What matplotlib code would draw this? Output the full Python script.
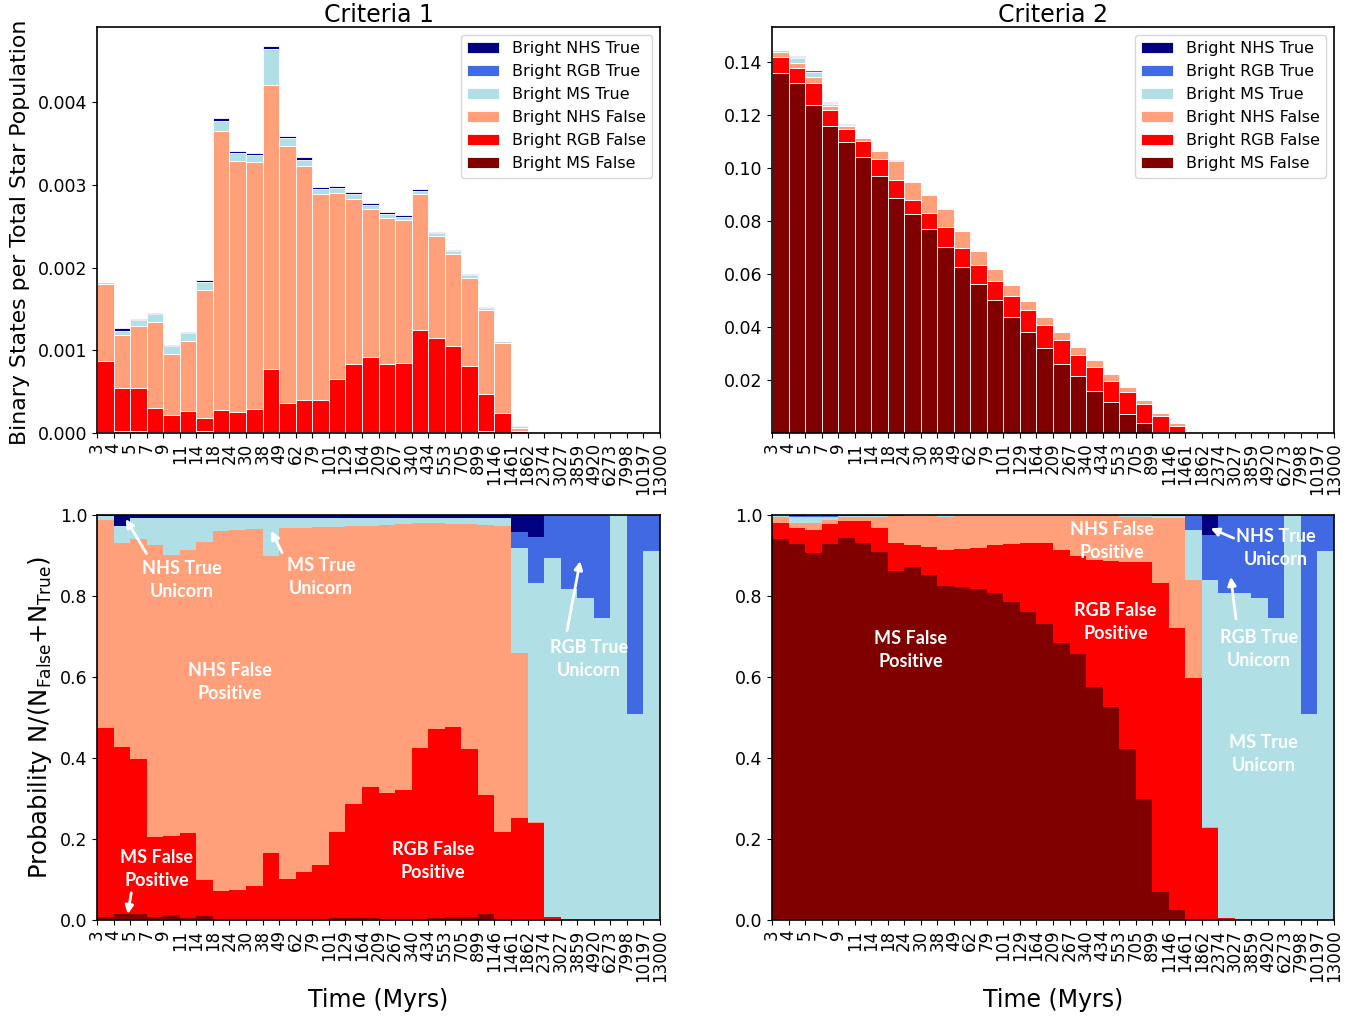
import numpy as np
import matplotlib.pyplot as plt

# bin edges in Myr (tick labels sit on the bin edges)
time_edges = ['3', '4', '5', '7', '9', '11', '14', '18', '24', '30', '38', '49', '62',
              '79', '101', '129', '164', '209', '267', '340', '434', '553', '705', '899',
              '1146', '1461', '1862', '2374', '3027', '3859', '4920', '6273', '7998',
              '10197', '13000']

# binary states per total star population in each bin
c1_total = np.array([1.826, 1.273, 1.375, 1.455, 1.060, 1.218, 1.846, 3.805, 3.410, 3.390,
                     4.680, 3.595, 3.333, 2.978, 2.990, 2.914, 2.781, 2.669, 2.636, 2.947,
                     2.434, 2.213, 1.923, 1.520, 1.116, 0.097, 0.028, 0.008, 0.002, 0.003,
                     0.003, 0.001, 0.002, 0.003]) * 1e-3
c2_total = np.array([0.1447, 0.1424, 0.1369, 0.1248, 0.1166, 0.1119, 0.1069, 0.1029, 0.0949,
                     0.0902, 0.0851, 0.0764, 0.0689, 0.0620, 0.0559, 0.0500, 0.0438, 0.0383,
                     0.0326, 0.0278, 0.0223, 0.0173, 0.0125, 0.0078, 0.0037, 0.0002, 0.00005,
                     0.00002, 0.00001, 0.00001, 0.00001, 0.00001, 0.00001, 0.00001])

# criteria 1: fraction of each state per bin
c1_ms_false = [.008, .016, .015, .008, .012, .006, .010, .003, .003, .003, .003, .003, .003,
               .003, .004, .005, .004, .003, .003, .003, .004, .007, .008, .016, .002, 0,
               0, 0, 0, 0, 0, 0, 0, 0]
c1_rgb_false = [.467, .412, .382, .198, .196, .210, .088, .069, .072, .081, .163, .098, .116,
                .132, .214, .281, .325, .310, .318, .421, .468, .470, .415, .292, .216, .251,
                .239, .008, 0, 0, 0, 0, 0, 0]
c1_nhs_false = [.513, .502, .543, .720, .693, .698, .836, .889, .888, .882, .733, .866, .850,
                .835, .753, .687, .645, .662, .656, .556, .508, .500, .554, .667, .754, .409,
                .004, 0, 0, 0, 0, 0, 0, 0]
c1_ms_true = [.009, .043, .052, .066, .091, .078, .058, .031, .029, .026, .093, .025, .023,
              .022, .021, .019, .018, .017, .015, .012, .012, .015, .015, .017, .020, .258,
              .588, .885, .817, .796, .745, 1.0, .508, .911]
c1_rgb_true = [0, 0, 0, 0, 0, 0, 0, 0, 0, 0, 0, 0, 0, 0, 0, 0, 0, 0, 0, 0, 0, 0, 0, 0, 0,
               .041, .115, .107, .183, .204, .255, 0, .492, .089]
c1_nhs_true = [.003, .027, .008, .008, .008, .008, .008, .008, .008, .008, .008, .008, .008,
               .008, .008, .008, .008, .008, .008, .008, .008, .008, .008, .008, .008, .041,
               .054, 0, 0, 0, 0, 0, 0, 0]

# criteria 2: fraction of each state per bin
c2_ms_false = [.940, .929, .905, .928, .942, .931, .909, .862, .871, .853, .825, .822, .817,
               .808, .784, .760, .730, .683, .657, .576, .526, .423, .300, .070, .024, 0,
               0, 0, 0, 0, 0, 0, 0, 0]
c2_rgb_false = [.041, .039, .059, .049, .042, .055, .060, .068, .055, .069, .089, .093, .102,
                .118, .144, .170, .200, .231, .243, .314, .360, .462, .584, .761, .696, .597,
                .226, .005, 0, 0, 0, 0, 0, 0]
c2_nhs_false = [.013, .013, .017, .011, .010, .010, .027, .067, .071, .075, .080, .082, .078,
                .071, .069, .067, .067, .083, .097, .107, .111, .111, .111, .161, .272, .243,
                .004, 0, 0, 0, 0, 0, 0, 0]
c2_ms_true = [.006, .014, .015, .007, .004, .002, .002, .001, .002, .002, .005, .002, .002,
              .002, .002, .002, .002, .002, .002, .002, .002, .003, .004, .006, .006, .123,
              .610, .802, .807, .796, .745, 1.0, .508, .911]
c2_rgb_true = [0, .002, .004, .003, .001, .001, .001, .001, 0, 0, 0, 0, 0, 0, 0, 0, 0, 0, 0,
               0, 0, 0, 0, 0, 0, .037, .111, .193, .193, .204, .255, 0, .492, .089]
c2_nhs_true = [0, .003, 0, .002, .001, .001, .001, .001, .001, .001, .001, .001, .001, .001,
               .001, .001, .001, .001, .001, .001, .001, .001, .001, .002, .002, 0, .049, 0,
               0, 0, 0, 0, 0, 0]

labels = ['Bright MS False', 'Bright RGB False', 'Bright NHS False',
          'Bright MS True', 'Bright RGB True', 'Bright NHS True']
colors = ['#800000', '#ff0000', '#ffa07a', '#b0e0e6', '#4169e1', '#000080']

c1_frac = np.array([c1_ms_false, c1_rgb_false, c1_nhs_false, c1_ms_true, c1_rgb_true, c1_nhs_true])
c2_frac = np.array([c2_ms_false, c2_rgb_false, c2_nhs_false, c2_ms_true, c2_rgb_true, c2_nhs_true])

# counts per state, and probability N/(N_False+N_True)
c1_counts = c1_frac * c1_total
c2_counts = c2_frac * c2_total
c1_prob = c1_counts / c1_counts.sum(axis=0)
c2_prob = c2_counts / c2_counts.sum(axis=0)

W, H = 1361, 1021
fig = plt.figure(figsize=(W / 100, H / 100), dpi=100)

def px_axes(x0, y0, x1, y1):
    return fig.add_axes([x0 / W, 1 - y1 / H, (x1 - x0) / W, (y1 - y0) / H])

ax_tl = px_axes(97, 27, 660, 433)
ax_tr = px_axes(772, 27, 1334, 433)
ax_bl = px_axes(97, 515, 660, 920)
ax_br = px_axes(772, 515, 1334, 920)

x = np.arange(len(time_edges) - 1)

def stack(ax, data, edge):
    bottom = np.zeros(len(x))
    handles = []
    for vals, lab, col in zip(data, labels, colors):
        if edge:
            h = ax.bar(x, vals, width=1, align='edge', bottom=bottom, color=col,
                       edgecolor='white', linewidth=0.6, label=lab)
        else:
            h = ax.bar(x, vals, width=1, align='edge', bottom=bottom, color=col,
                       linewidth=0, label=lab)
        handles.append(h)
        bottom = bottom + vals
    return handles

def style(ax):
    ax.set_xlim(0, len(x))
    ax.set_xticks(np.arange(len(time_edges)))
    ax.set_xticklabels(time_edges, rotation=90, fontsize=12)
    ax.tick_params(axis='y', labelsize=12.5)
    for s in ax.spines.values():
        s.set_linewidth(1.2)

h1 = stack(ax_tl, c1_counts, True)
h2 = stack(ax_tr, c2_counts, True)
stack(ax_bl, c1_prob, False)
stack(ax_br, c2_prob, False)

for ax in (ax_tl, ax_tr, ax_bl, ax_br):
    style(ax)

ax_tl.set_ylim(0, 0.00491)
ax_tl.set_yticks([0, 0.001, 0.002, 0.003, 0.004])
ax_tr.set_ylim(0, 0.1533)
ax_tr.set_yticks([0.02, 0.04, 0.06, 0.08, 0.10, 0.12, 0.14])
for ax in (ax_bl, ax_br):
    ax.set_ylim(0, 1)
    ax.set_yticks([0, 0.2, 0.4, 0.6, 0.8, 1.0])

ax_tl.set_title('Criteria 1', fontsize=17, pad=2)
ax_tr.set_title('Criteria 2', fontsize=17, pad=2)

for ax, hs in ((ax_tl, h1), (ax_tr, h2)):
    ax.legend(hs[::-1], labels[::-1], loc='upper right', fontsize=11.5)

fig.text(20 / W, 1 - 232 / H, 'Binary States per Total Star Population',
         rotation=90, ha='center', va='center', fontsize=15.8)
fig.text(40 / W, 1 - 717 / H, 'Probability N/(N$_\\mathrm{False}$+N$_\\mathrm{True}$)',
         rotation=90, ha='center', va='center', fontsize=17.5)
fig.text(378 / W, 1 - 1000 / H, 'Time (Myrs)', ha='center', va='center', fontsize=17)
fig.text(1053 / W, 1 - 1000 / H, 'Time (Myrs)', ha='center', va='center', fontsize=17)

# white call-out labels on the probability panels
txt = dict(color='white', fontsize=13, fontweight='bold', family='Lato',
           ha='center', va='center', linespacing=1.45)
arw = dict(arrowstyle='-|>', color='white', lw=2, mutation_scale=12)

ax_bl.text(5.13, 0.840, 'NHS True\nUnicorn', **txt)
ax_bl.annotate('', xy=(1.65, 0.996), xytext=(3.08, 0.899), arrowprops=arw)
ax_bl.text(13.53, 0.847, 'MS True\nUnicorn', **txt)
ax_bl.annotate('', xy=(10.45, 0.967), xytext=(11.25, 0.901), arrowprops=arw)
ax_bl.text(8.03, 0.588, 'NHS False\nPositive', **txt)
ax_bl.text(3.62, 0.126, 'MS False\nPositive', **txt)
ax_bl.annotate('', xy=(1.83, 0.008), xytext=(2.10, 0.074), arrowprops=arw)
ax_bl.text(20.29, 0.146, 'RGB False\nPositive', **txt)
ax_bl.text(29.71, 0.644, 'RGB True\nUnicorn', **txt)
ax_bl.annotate('', xy=(29.21, 0.893), xytext=(28.36, 0.708), arrowprops=arw)

ax_br.text(20.55, 0.936, 'NHS False\nPositive', **txt)
ax_br.text(30.47, 0.919, 'NHS True\nUnicorn', **txt)
ax_br.annotate('', xy=(26.38, 0.970), xytext=(28.09, 0.940), arrowprops=arw)
ax_br.text(20.79, 0.736, 'RGB False\nPositive', **txt)
ax_br.text(29.44, 0.669, 'RGB True\nUnicorn', **txt)
ax_br.annotate('', xy=(27.73, 0.854), xytext=(28.09, 0.737), arrowprops=arw)
ax_br.text(8.38, 0.667, 'MS False\nPositive', **txt)
ax_br.text(29.74, 0.410, 'MS True\nUnicorn', **txt)

fig.savefig('out.png', dpi=100)
